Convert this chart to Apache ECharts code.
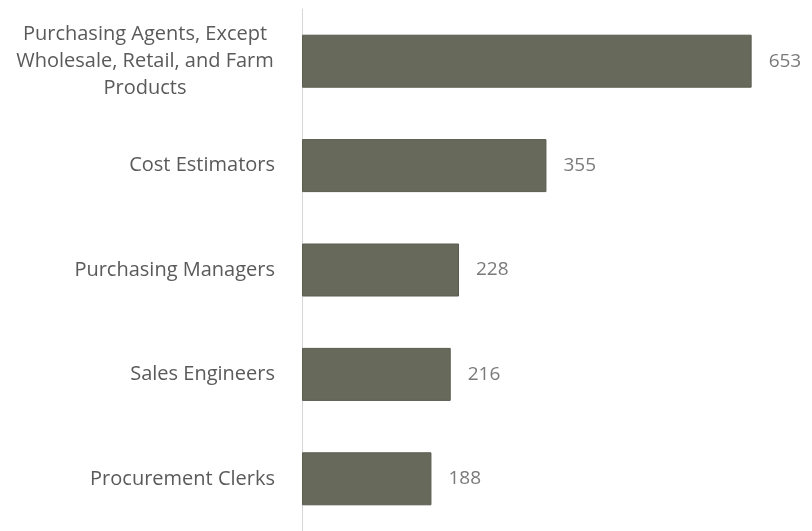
<!DOCTYPE html>
<html><head><meta charset="utf-8">
<script src="https://cdn.jsdelivr.net/npm/echarts@6/dist/echarts.min.js"></script>
<style>html,body{margin:0;padding:0;background:#fff}#c{width:812px;height:531px}</style>
</head><body><div id="c"></div>
<script>
const categories = [
  "Purchasing Agents, Except\nWholesale, Retail, and Farm\nProducts",
  "Cost Estimators",
  "Purchasing Managers",
  "Sales Engineers",
  "Procurement Clerks"
];
const values = [653, 355, 228, 216, 188];

const chart = echarts.init(document.getElementById('c'));
chart.setOption({
  animation: false,
  grid: { left: 302, right: 28, top: 9, bottom: -3, containLabel: false },
  xAxis: {
    type: 'value', min: 0, max: 700,
    show: false
  },
  yAxis: {
    type: 'category', inverse: true, data: categories,
    axisLine: { show: true, lineStyle: { color: '#d6d6d6', width: 1 } },
    axisTick: { show: false },
    axisLabel: {
      margin: 24, color: '#5a5a5a', fontFamily: 'Open Sans', fontSize: 20,
      lineHeight: 27, align: 'right',
      formatter: function (v) {
        if (v.indexOf('\n') >= 0) {
          return v.split('\n').map(function (l) { return '{m|' + l + '}'; }).join('\n');
        }
        return '{s|' + v + '}';
      },
      rich: {
        m: { width: 266, align: 'center', fontSize: 20, fontFamily: 'Open Sans', color: '#5a5a5a', lineHeight: 27 },
        s: { padding: [0, 3, 0, 0], fontSize: 20, fontFamily: 'Open Sans', color: '#5a5a5a' }
      }
    }
  },
  series: [{
    type: 'bar', data: values, barWidth: 53,
    itemStyle: { color: '#676a5a', borderColor: '#5a5c50', borderWidth: 1 },
    label: {
      show: true, position: 'right', distance: 17,
      color: '#7a7a7a', fontFamily: 'Open Sans', fontSize: 19
    }
  }]
});
</script></body></html>
